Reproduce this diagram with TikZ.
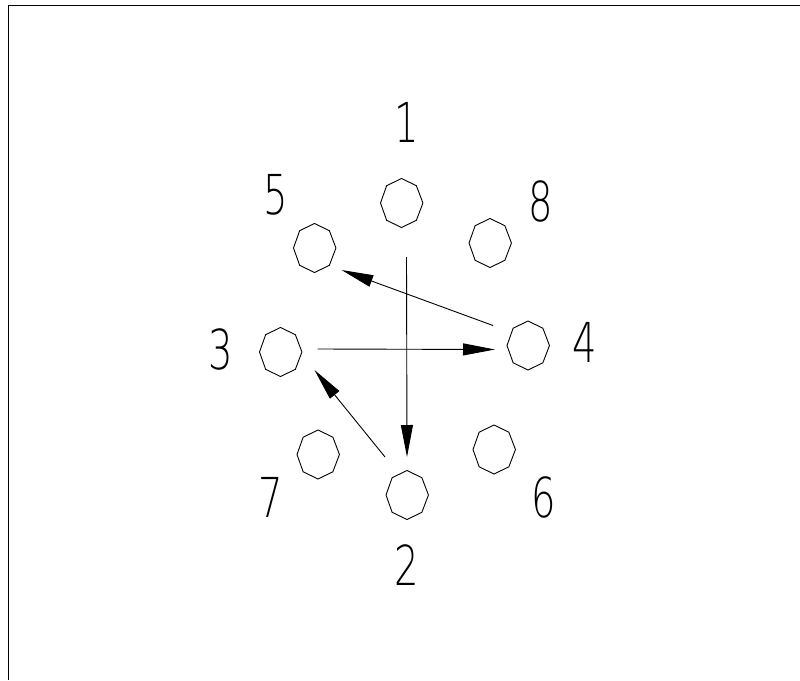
\documentclass[tikz,border=0pt]{standalone}
\usepackage{fontspec}
\usepackage{graphicx}
\setmainfont{DejaVu Sans ExtraLight}
\usetikzlibrary{arrows.meta,calc,shapes.geometric}
\begin{document}
\begin{tikzpicture}[x=1pt,y=-1pt,line width=0.9pt,
  hole/.style={ellipse,minimum width=42pt,minimum height=49pt,inner sep=0pt},
  num/.style={inner sep=0pt,font=\fontsize{55}{55}\selectfont},
  arr/.style={-{Triangle[length=32pt,width=12pt]}}]
\useasboundingbox (0,0) rectangle (800,680);
\draw (800,5) -- (8,5) -- (8,680);
\node[hole] (h1) at (401.5,203) {};
\node[hole] (h2) at (407,495) {};
\node[hole] (h3) at (280.5,352) {};
\node[hole] (h4) at (528,345.5) {};
\node[hole] (h5) at (314.5,248) {};
\node[hole] (h6) at (494,449.5) {};
\node[hole] (h7) at (318,454.5) {};
\node[hole] (h8) at (490,243) {};
\foreach \i in {1,...,8}
  \draw (h\i.east) \foreach \a in {45,90,...,315}{ -- ($(h\i)+(\a:21pt and 24.5pt)$)} -- cycle;
\node[num] (l1) at (407,122) {\scalebox{0.7}[1]{1}};
\node[num] (l2) at (407,565) {\scalebox{0.7}[1]{2}};
\node[num] (l3) at (220.5,349) {\scalebox{0.7}[1]{3}};
\node[num] (l4) at (585,342) {\scalebox{0.7}[1]{4}};
\node[num] (l5) at (275.5,195) {\scalebox{0.7}[1]{5}};
\node[num] (l6) at (543.5,497) {\scalebox{0.7}[1]{6}};
\node[num] (l7) at (270.5,497) {\scalebox{0.7}[1]{7}};
\node[num] (l8) at (541,201) {\scalebox{0.7}[1]{8}};
\draw[arr] ($(h1)+(5,54)$) -- ($(h2)+(0,-38)$);
\draw[arr] ($(h3)+(37,-3)$) -- ($(h4)+(-33,4)$);
\draw[arr] ($(h4)+(-35,-20)$) -- ($(h5)+(27,22)$);
\draw[arr] ($(h2)+(-22,-38)$) -- ($(h3)+(34,18)$);
\end{tikzpicture}
\end{document}
